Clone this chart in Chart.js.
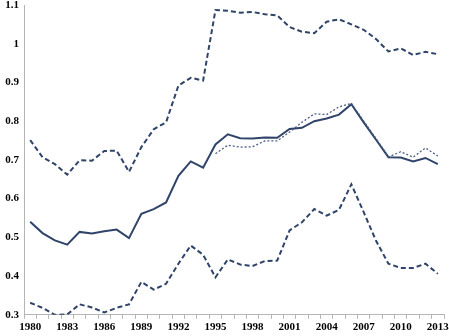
<!DOCTYPE html>
<html>
<head>
<meta charset="utf-8">
<script src="https://cdn.jsdelivr.net/npm/chart.js@4"></script>
<style>
  html, body { margin: 0; padding: 0; background: #fff; }
  #wrap { width: 449px; height: 336px; }
</style>
</head>
<body>
<div id="wrap"><canvas id="myChart" width="449" height="336"></canvas></div>
<script>
var years = [];
for (var y = 1980; y <= 2013; y++) years.push(String(y));

// solid line
var mid = [0.540, 0.511, 0.492, 0.481, 0.514, 0.510, 0.516, 0.520, 0.498, 0.561,
           0.573, 0.590, 0.659, 0.696, 0.680, 0.740, 0.766, 0.756, 0.755, 0.758,
           0.757, 0.780, 0.783, 0.800, 0.807, 0.817, 0.844, 0.797, 0.752, 0.707,
           0.706, 0.696, 0.705, 0.689];
// dotted line (starts 1995)
var dotted = [null, null, null, null, null, null, null, null, null, null,
              null, null, null, null, null, 0.716, 0.738, 0.733, 0.734, 0.749,
              0.749, 0.772, 0.797, 0.819, 0.817, 0.837, 0.846, 0.800, 0.755, 0.708,
              0.721, 0.707, 0.731, 0.710];
// upper dashed line
var upper = [0.751, 0.707, 0.689, 0.662, 0.699, 0.698, 0.723, 0.724, 0.669, 0.733,
             0.779, 0.797, 0.892, 0.912, 0.905, 1.087, 1.085, 1.080, 1.082, 1.076,
             1.073, 1.043, 1.031, 1.027, 1.057, 1.063, 1.050, 1.036, 1.012, 0.980,
             0.988, 0.971, 0.979, 0.973];
// lower dashed line
var lower = [0.331, 0.318, 0.300, 0.301, 0.327, 0.319, 0.306, 0.318, 0.327, 0.385,
             0.365, 0.380, 0.432, 0.479, 0.455, 0.397, 0.443, 0.430, 0.426, 0.439,
             0.440, 0.518, 0.539, 0.573, 0.556, 0.571, 0.637, 0.565, 0.491, 0.432,
             0.421, 0.421, 0.432, 0.406];

var yMin = 0.3, yMax = 1.1, yStep = 0.1;
var navy = '#2f4468';
var axisGray = '#b5b5b5';

function lineSet(data, dash, width, color) {
    return {
        data: data,
        borderColor: color,
        backgroundColor: color,
        borderWidth: width,
        borderDash: dash,
        pointRadius: 0,
        tension: 0,
        fill: false,
        spanGaps: false
    };
}

var ctx = document.getElementById('myChart').getContext('2d');
var chart = new Chart(ctx, {
    type: 'line',
    data: {
        labels: years,
        datasets: [
            lineSet(upper, [5, 3], 2, navy),
            lineSet(dotted, [2, 2], 1.3, '#4a5d80'),
            lineSet(mid, [], 2, navy),
            lineSet(lower, [5, 3], 2, navy)
        ]
    },
    options: {
        responsive: false,
        animation: false,
        layout: { padding: { top: 5, right: 5, left: 0, bottom: 0 } },
        plugins: { legend: { display: false }, tooltip: { enabled: false } },
        scales: {
            x: {
                offset: true,
                grid: {
                    display: true,
                    offset: true,
                    drawOnChartArea: false,
                    tickLength: 4,
                    color: axisGray
                },
                border: { display: true, color: axisGray },
                ticks: {
                    autoSkip: false,
                    maxRotation: 0,
                    padding: 2,
                    color: '#000',
                    font: { family: 'Liberation Serif', weight: 'bold', size: 11 },
                    callback: function (v, i) { return i % 3 === 0 ? years[i] : ''; }
                },
                afterFit: function (s) { s.paddingLeft = 0; s.paddingRight = 0; }
            },
            y: {
                min: yMin,
                max: yMax,
                grid: { display: false, drawTicks: false },
                border: { display: true, color: axisGray },
                ticks: {
                    stepSize: yStep,
                    padding: 5,
                    color: '#000',
                    font: { family: 'Liberation Serif', weight: 'bold', size: 11 },
                    callback: function (v) { return String(+v.toFixed(1)); }
                },
                afterFit: function (s) { s.width = 24; s.paddingTop = 0; s.paddingBottom = 0; }
            }
        }
    }
});
</script>
</body>
</html>
